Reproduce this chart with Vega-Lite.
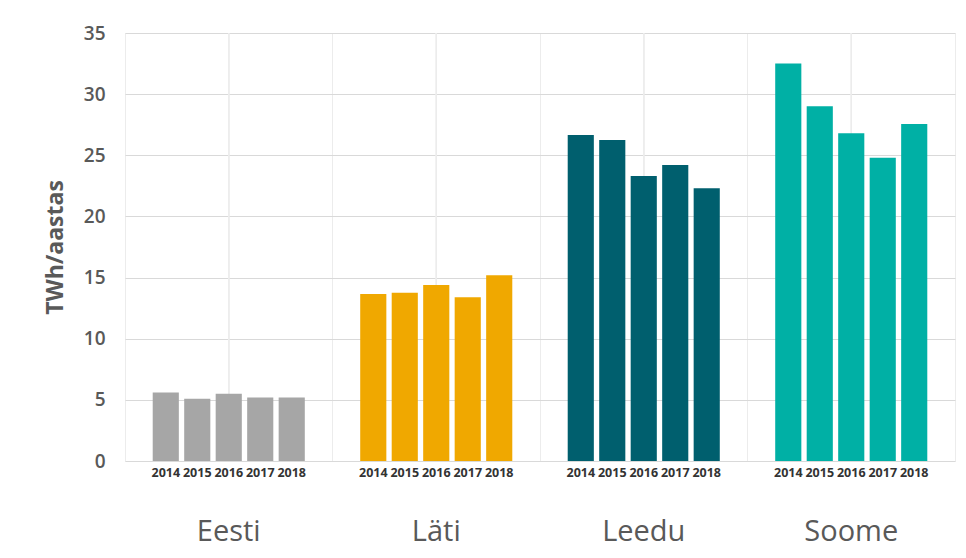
{
  "$schema": "https://vega.github.io/schema/vega-lite/v6.json",
  "width": 830,
  "height": 428,
  "autosize": "none",
  "padding": {"left": 125, "top": 33, "right": 11, "bottom": 97},
  "background": "white",
  "config": {
    "font": "Open Sans",
    "view": {"stroke": "#ececec"}
  },
  "data": {
    "values": [
      {"country": "Eesti", "year": "2014", "value": 5.6},
      {"country": "Eesti", "year": "2015", "value": 5.1},
      {"country": "Eesti", "year": "2016", "value": 5.5},
      {"country": "Eesti", "year": "2017", "value": 5.2},
      {"country": "Eesti", "year": "2018", "value": 5.2},
      {"country": "Läti", "year": "2014", "value": 13.65},
      {"country": "Läti", "year": "2015", "value": 13.75},
      {"country": "Läti", "year": "2016", "value": 14.4},
      {"country": "Läti", "year": "2017", "value": 13.4},
      {"country": "Läti", "year": "2018", "value": 15.2},
      {"country": "Leedu", "year": "2014", "value": 26.65},
      {"country": "Leedu", "year": "2015", "value": 26.25},
      {"country": "Leedu", "year": "2016", "value": 23.3},
      {"country": "Leedu", "year": "2017", "value": 24.2},
      {"country": "Leedu", "year": "2018", "value": 22.3},
      {"country": "Soome", "year": "2014", "value": 32.5},
      {"country": "Soome", "year": "2015", "value": 29.0},
      {"country": "Soome", "year": "2016", "value": 26.8},
      {"country": "Soome", "year": "2017", "value": 24.8},
      {"country": "Soome", "year": "2018", "value": 27.55}
    ]
  },
  "encoding": {
    "x": {
      "field": "country",
      "type": "nominal",
      "sort": ["Eesti", "Läti", "Leedu", "Soome"],
      "scale": {"paddingInner": 0, "paddingOuter": 0},
      "axis": {
        "title": null,
        "domain": false,
        "ticks": false,
        "labelAngle": 0,
        "labelFontSize": 29,
        "labelColor": "#595959",
        "labelFontWeight": 500,
        "labelPadding": 56,
        "grid": true,
        "gridColor": "#ececec",
        "bandPosition": 0
      }
    },
    "xOffset": {
      "field": "year",
      "type": "nominal",
      "scale": {"paddingInner": 0.17, "paddingOuter": 0.88}
    }
  },
  "layer": [
    {
      "mark": {"type": "rule", "color": "#ececec", "strokeWidth": 1},
      "encoding": {"xOffset": null}
    },
    {
      "mark": {"type": "bar"},
      "encoding": {
        "y": {
          "field": "value",
          "type": "quantitative",
          "scale": {"domain": [0, 35]},
          "axis": {
            "title": "TWh/aastas",
            "titleFontSize": 23,
            "titleColor": "#595959",
            "titleFontWeight": "bold",
            "titlePadding": 16,
            "values": [0, 5, 10, 15, 20, 25, 30, 35],
            "domain": false,
            "ticks": false,
            "labelFontSize": 19,
            "labelFontWeight": 600,
            "labelColor": "#595959",
            "labelPadding": 20,
            "gridColor": "#d9d9d9"
          }
        },
        "color": {
          "field": "country",
          "type": "nominal",
          "scale": {
            "domain": ["Eesti", "Läti", "Leedu", "Soome"],
            "range": ["#a6a6a6", "#f0a800", "#005f6e", "#00b0a5"]
          },
          "legend": null
        }
      }
    },
    {
      "mark": {"type": "text", "baseline": "top", "dy": 6, "fontSize": 12.5, "fontWeight": "bold", "color": "#333333"},
      "encoding": {
        "y": {"datum": 0, "type": "quantitative"},
        "text": {"field": "year"}
      }
    }
  ]
}
